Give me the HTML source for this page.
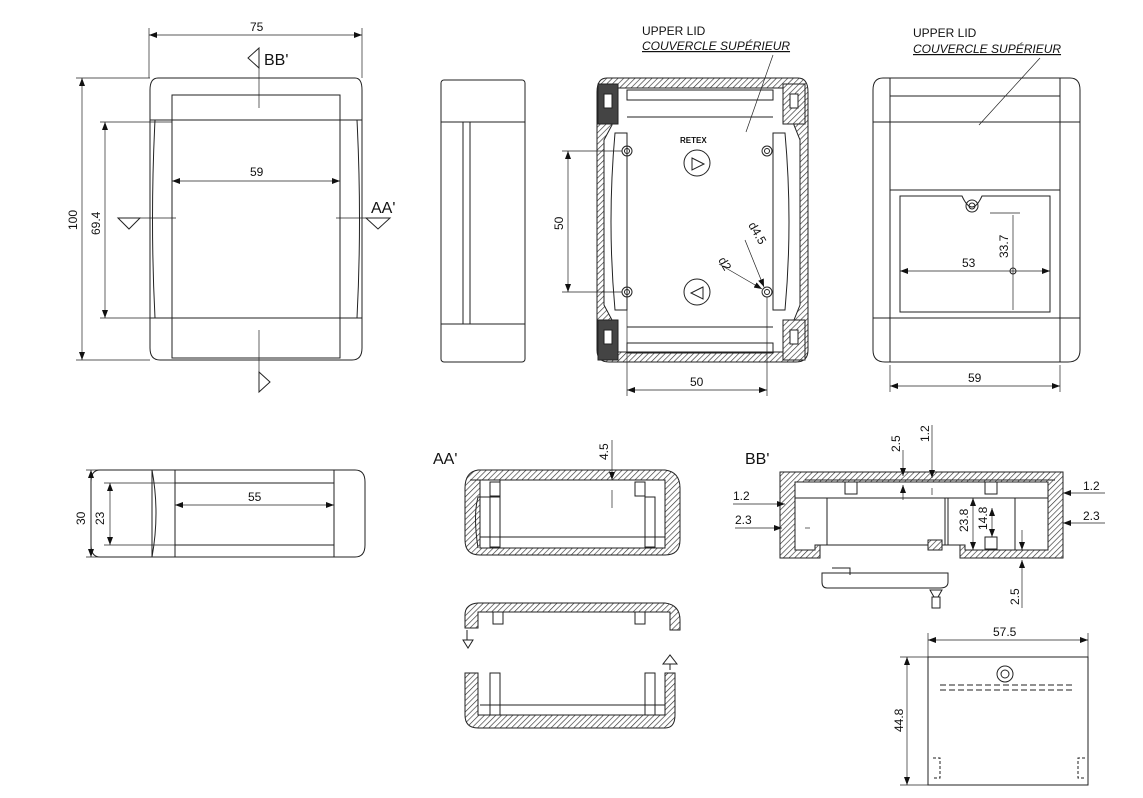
<!DOCTYPE html>
<html><head><meta charset="utf-8"><style>
body{margin:0;background:#fff}
svg{display:block;font-family:"Liberation Sans",sans-serif}
</style></head><body>
<svg width="1143" height="798" viewBox="0 0 1143 798" xmlns="http://www.w3.org/2000/svg">
<defs>
<pattern id="h" width="4" height="4" patternUnits="userSpaceOnUse" patternTransform="rotate(45)">
<rect width="4" height="4" fill="#fff"/><line x1="0" y1="0" x2="0" y2="4" stroke="#333" stroke-width="1.3"/></pattern>
<marker id="a" markerWidth="8" markerHeight="6" refX="8" refY="3" orient="auto-start-reverse" markerUnits="userSpaceOnUse"><path d="M0,0L8,3L0,6z" fill="#111"/></marker>
</defs>
<g fill="none" stroke="#222" stroke-width="1">
<!-- FRONT VIEW -->
<path d="M158,78 L355,78 Q362,78 362,90 L362,348 Q362,360 352,360 L160,360 Q150,360 150,348 L150,90 Q150,78 158,78Z"/>
<path d="M155,120 Q150,220 155,318 M357,120 Q362,220 357,318"/>
<rect x="172" y="95" width="168" height="263"/>
<line x1="172" y1="120" x2="340" y2="120"/><line x1="172" y1="318" x2="340" y2="318"/>
<line x1="150" y1="120" x2="172" y2="120"/><line x1="340" y1="120" x2="362" y2="120"/>
<line x1="150" y1="318" x2="172" y2="318"/><line x1="340" y1="318" x2="362" y2="318"/>
<g stroke-width="0.7">
<line x1="149" y1="28" x2="149" y2="78"/><line x1="362" y1="28" x2="362" y2="78"/>
<line x1="149" y1="35" x2="362" y2="35" marker-start="url(#a)" marker-end="url(#a)"/>
<line x1="76" y1="78" x2="150" y2="78"/><line x1="76" y1="360" x2="150" y2="360"/>
<line x1="82" y1="78" x2="82" y2="360" marker-start="url(#a)" marker-end="url(#a)"/>
<line x1="100" y1="122" x2="172" y2="122"/><line x1="100" y1="318" x2="172" y2="318"/>
<line x1="105" y1="122" x2="105" y2="318" marker-start="url(#a)" marker-end="url(#a)"/>
<line x1="172" y1="181" x2="340" y2="181" marker-start="url(#a)" marker-end="url(#a)"/>
<line x1="259" y1="48" x2="259" y2="108"/><line x1="259" y1="330" x2="259" y2="392"/>
<line x1="118" y1="218" x2="176" y2="218"/><line x1="336" y1="218" x2="390" y2="218"/>
</g>
<path d="M248,58 L259,48 L259,68Z"/><path d="M259,372 L270,382 L259,392Z"/>
<path d="M118,218 L140,218 L129,229Z"/><path d="M366,218 L390,218 L378,229Z"/>
<!-- SIDE VIEW -->
<rect x="441" y="80" width="84" height="282" rx="3"/>
<line x1="441" y1="122" x2="525" y2="122"/><line x1="441" y1="324" x2="525" y2="324"/>
<rect x="463" y="122" width="7" height="202"/>
<!-- BOTTOM VIEW -->
<path d="M607,78 L798,78 Q808,78 808,92 L808,350 Q808,362 796,362 L609,362 Q597,362 597,350 L597,92 Q597,78 607,78Z" fill="url(#h)"/>
<path d="M612,88 L794,88 L794,125 L800,140 L800,305 L794,320 L794,352 L612,352 L612,320 L604,305 L604,140 L612,125Z" fill="#fff"/>
<rect x="627" y="90" width="146" height="10"/>
<rect x="627" y="343" width="146" height="10"/>
<line x1="627" y1="117" x2="773" y2="117"/><line x1="627" y1="327" x2="773" y2="327"/>
<path d="M615,133 L627,133 L627,310 L615,310 Q607,222 615,133Z"/>
<path d="M785,133 L773,133 L773,310 L785,310 Q793,222 785,133Z"/>
<rect x="598" y="84" width="20" height="40" fill="#444"/><rect x="783" y="84" width="22" height="40" fill="url(#h)"/>
<rect x="598" y="320" width="20" height="40" fill="#444"/><rect x="783" y="320" width="22" height="40" fill="url(#h)"/>
<rect x="604" y="94" width="8" height="14" fill="#fff"/><rect x="790" y="94" width="8" height="14" fill="#fff"/>
<rect x="604" y="330" width="8" height="14" fill="#fff"/><rect x="790" y="330" width="8" height="14" fill="#fff"/>
<circle cx="627" cy="151" r="5"/><circle cx="627" cy="151" r="2.5"/>
<circle cx="767" cy="151" r="5"/><circle cx="767" cy="151" r="2.5"/>
<circle cx="627" cy="292" r="5"/><circle cx="627" cy="292" r="2.5"/>
<circle cx="767" cy="292" r="5"/><circle cx="767" cy="292" r="2.5"/>
<circle cx="697" cy="163" r="13"/><path d="M692,158 L704,164 L692,170Z"/>
<circle cx="697" cy="292" r="13"/><path d="M703,287 L691,293 L703,299Z"/>
<g stroke-width="0.7">
<line x1="562" y1="151" x2="622" y2="151"/><line x1="562" y1="292" x2="622" y2="292"/>
<line x1="568" y1="151" x2="568" y2="292" marker-start="url(#a)" marker-end="url(#a)"/>
<line x1="627" y1="297" x2="627" y2="396"/><line x1="767" y1="297" x2="767" y2="396"/>
<line x1="627" y1="390" x2="767" y2="390" marker-start="url(#a)" marker-end="url(#a)"/>
<line x1="745" y1="240" x2="764" y2="287" marker-end="url(#a)"/>
<line x1="719" y1="264" x2="762" y2="289" marker-end="url(#a)"/>
<line x1="746" y1="132" x2="773" y2="55"/>
<line x1="979" y1="125" x2="1040" y2="58"/>
</g>
<!-- RIGHT VIEW -->
<path d="M883,78 L1070,78 Q1080,78 1080,90 L1080,350 Q1080,362 1068,362 L885,362 Q873,362 873,350 L873,90 Q873,78 883,78Z"/>
<rect x="890" y="78" width="170" height="284"/>
<line x1="890" y1="96" x2="1060" y2="96"/>
<line x1="873" y1="122" x2="1080" y2="122"/><line x1="873" y1="318" x2="1080" y2="318"/>
<rect x="890" y="190" width="170" height="128"/>
<path d="M900,196 L962,196 Q972,218 982,196 L1050,196 L1050,312 L900,312Z"/>
<circle cx="972" cy="206" r="6"/><circle cx="972" cy="206" r="3"/>
<circle cx="1013" cy="271" r="3"/>
<g stroke-width="0.7">
<line x1="890" y1="365" x2="890" y2="392"/><line x1="1060" y1="365" x2="1060" y2="392"/>
<line x1="890" y1="386" x2="1060" y2="386" marker-start="url(#a)" marker-end="url(#a)"/>
<line x1="900" y1="271" x2="1050" y2="271" marker-start="url(#a)" marker-end="url(#a)"/>
<line x1="1013" y1="215" x2="1013" y2="310"/>
<line x1="990" y1="213" x2="1020" y2="213"/>
</g>
<!-- LOWER LEFT -->
<path d="M100,470 L355,470 Q365,470 365,482 L365,545 Q365,557 355,557 L100,557 Q91,557 91,545 L91,482 Q91,470 100,470Z"/>
<line x1="152" y1="470" x2="152" y2="557"/><line x1="175" y1="470" x2="175" y2="557"/>
<path d="M152,470 Q160,513 152,557"/>
<rect x="175" y="483" width="159" height="62"/>
<line x1="334" y1="470" x2="334" y2="557"/>
<g stroke-width="0.7">
<line x1="86" y1="470" x2="150" y2="470"/><line x1="86" y1="557" x2="150" y2="557"/>
<line x1="91" y1="470" x2="91" y2="557" marker-start="url(#a)" marker-end="url(#a)"/>
<line x1="104" y1="483" x2="175" y2="483"/><line x1="104" y1="545" x2="175" y2="545"/>
<line x1="110" y1="483" x2="110" y2="545" marker-start="url(#a)" marker-end="url(#a)"/>
<line x1="175" y1="505" x2="334" y2="505" marker-start="url(#a)" marker-end="url(#a)"/>
</g>
<!-- AA' -->
<path d="M478,470 L665,470 Q680,472 680,488 L680,540 Q680,555 665,555 L480,555 Q465,555 465,540 L465,488 Q465,472 478,470Z" fill="url(#h)"/>
<path d="M480,480 L665,480 L665,548 L480,548Z" fill="#fff"/>
<path d="M470,480 L500,480 L500,497 L478,497 Q473,515 478,548" fill="none"/>
<rect x="490" y="497" width="10" height="50"/><rect x="645" y="497" width="10" height="50"/>
<line x1="480" y1="537" x2="665" y2="537"/>
<rect x="490" y="482" width="10" height="14"/><rect x="635" y="482" width="10" height="14"/>
<g stroke-width="0.7"><line x1="612" y1="440" x2="612" y2="480" marker-end="url(#a)"/><line x1="612" y1="490" x2="612" y2="508"/></g>
<path d="M478,603 L665,603 Q680,605 680,620 L680,630 L670,630 L670,612 L478,612 L478,628 L465,628 L465,615 Q465,604 478,603Z" fill="url(#h)"/>
<rect x="493" y="612" width="10" height="12"/><rect x="635" y="612" width="10" height="12"/>
<path d="M470,673 L478,673 L478,715 L665,715 L665,673 L675,673 L675,715 Q675,728 665,728 L478,728 Q465,728 465,715 L465,673Z" fill="url(#h)"/>
<rect x="490" y="673" width="10" height="42"/><rect x="645" y="673" width="10" height="42"/>
<line x1="480" y1="705" x2="665" y2="705"/>
<path d="M463,640 L473,640 L468,648Z M467,630 L467,640"/>
<path d="M663,664 L677,664 L670,655Z M670,664 L670,670"/>
<!-- BB' -->
<path d="M780,472 L1063,472 L1063,558 L1040,558 L960,558 L960,540 L820,540 L820,558 L780,558Z" fill="url(#h)"/>
<path d="M795,482 L1048,482 L1048,550 L965,550 L965,545 L815,545 L815,550 L795,550Z" fill="#fff"/>
<line x1="805" y1="480" x2="1055" y2="480"/>
<line x1="795" y1="498" x2="1048" y2="498"/>
<rect x="845" y="482" width="12" height="12"/><rect x="985" y="482" width="12" height="12"/>
<rect x="985" y="537" width="12" height="12"/>
<line x1="827" y1="498" x2="827" y2="545"/><line x1="1015" y1="498" x2="1015" y2="550"/>
<line x1="945" y1="498" x2="945" y2="545"/><line x1="948" y1="498" x2="948" y2="545"/>
<rect x="928" y="540" width="14" height="10" fill="url(#h)"/>
<path d="M822,573 L948,573 L948,582 Q948,588 940,588 L827,588 Q822,588 822,582Z"/>
<path d="M832,568 L850,568 L850,575"/>
<path d="M930,590 L942,590 L938,597 L934,597Z M932,597 L940,597 L940,608 L932,608Z"/>
<g stroke-width="0.7">
<line x1="903" y1="450" x2="903" y2="476" marker-end="url(#a)"/><line x1="903" y1="485" x2="903" y2="500" marker-start="url(#a)"/>
<line x1="932" y1="425" x2="932" y2="478" marker-end="url(#a)"/><line x1="932" y1="488" x2="932" y2="495"/>
<line x1="973" y1="498" x2="973" y2="550" marker-start="url(#a)" marker-end="url(#a)"/>
<line x1="992" y1="508" x2="992" y2="537" marker-start="url(#a)" marker-end="url(#a)"/>
<line x1="1022" y1="530" x2="1022" y2="550" marker-end="url(#a)"/>
<line x1="1022" y1="608" x2="1022" y2="560" marker-end="url(#a)"/>
<line x1="733" y1="504" x2="785" y2="504" marker-end="url(#a)"/>
<line x1="735" y1="528" x2="782" y2="528" marker-end="url(#a)"/>
<line x1="805" y1="528" x2="810" y2="528"/>
<line x1="1105" y1="493" x2="1063" y2="493" marker-end="url(#a)"/>
<line x1="1105" y1="523" x2="1063" y2="523" marker-end="url(#a)"/>
</g>
<!-- 57.5 panel -->
<rect x="928" y="657" width="160" height="128"/>
<circle cx="1005" cy="674" r="8"/><circle cx="1005" cy="674" r="4"/>
<path d="M940,685 L1075,685 M940,690 L1075,690" stroke-dasharray="6,3"/>
<path d="M933,758 L940,758 L940,778 L933,778 M1085,758 L1078,758 L1078,778 L1085,778" stroke-dasharray="3,2"/>
<g stroke-width="0.7">
<line x1="928" y1="633" x2="928" y2="657"/><line x1="1088" y1="633" x2="1088" y2="657"/>
<line x1="928" y1="640" x2="1088" y2="640" marker-start="url(#a)" marker-end="url(#a)"/>
<line x1="900" y1="657" x2="928" y2="657"/><line x1="900" y1="785" x2="928" y2="785"/>
<line x1="907" y1="657" x2="907" y2="785" marker-start="url(#a)" marker-end="url(#a)"/>
</g>
</g>
<g fill="#111" font-size="12">
<text x="250" y="31">75</text>
<text x="264" y="65" font-size="16">BB'</text>
<text x="371" y="213" font-size="16">AA'</text>
<text x="250" y="176">59</text>
<text transform="translate(77,230) rotate(-90)">100</text>
<text transform="translate(100,235) rotate(-90)">69.4</text>
<text x="642" y="35">UPPER LID</text>
<text x="642" y="50" font-style="italic" text-decoration="underline">COUVERCLE SUPÉRIEUR</text>
<text x="913" y="37">UPPER LID</text>
<text x="913" y="53" font-style="italic" text-decoration="underline">COUVERCLE SUPÉRIEUR</text>
<text x="680" y="143" font-size="8" font-weight="bold">RETEX</text>
<text transform="translate(563,230) rotate(-90)">50</text>
<text x="690" y="386">50</text>
<text transform="translate(748,225) rotate(60)">d4.5</text>
<text transform="translate(718,260) rotate(60)">d2</text>
<text x="962" y="267">53</text>
<text transform="translate(1008,258) rotate(-90)">33.7</text>
<text x="968" y="382">59</text>
<text transform="translate(85,525) rotate(-90)">30</text>
<text transform="translate(104,525) rotate(-90)">23</text>
<text x="248" y="501">55</text>
<text x="433" y="464" font-size="16">AA'</text>
<text transform="translate(608,460) rotate(-90)">4.5</text>
<text x="745" y="464" font-size="16">BB'</text>
<text transform="translate(900,452) rotate(-90)">2.5</text>
<text transform="translate(929,442) rotate(-90)">1.2</text>
<text x="733" y="500">1.2</text>
<text x="735" y="524">2.3</text>
<text transform="translate(968,532) rotate(-90)">23.8</text>
<text transform="translate(987,530) rotate(-90)">14.8</text>
<text x="1083" y="490">1.2</text>
<text x="1083" y="520">2.3</text>
<text transform="translate(1019,605) rotate(-90)">2.5</text>
<text x="993" y="636">57.5</text>
<text transform="translate(903,732) rotate(-90)">44.8</text>
</g>
</svg>
</body></html>
